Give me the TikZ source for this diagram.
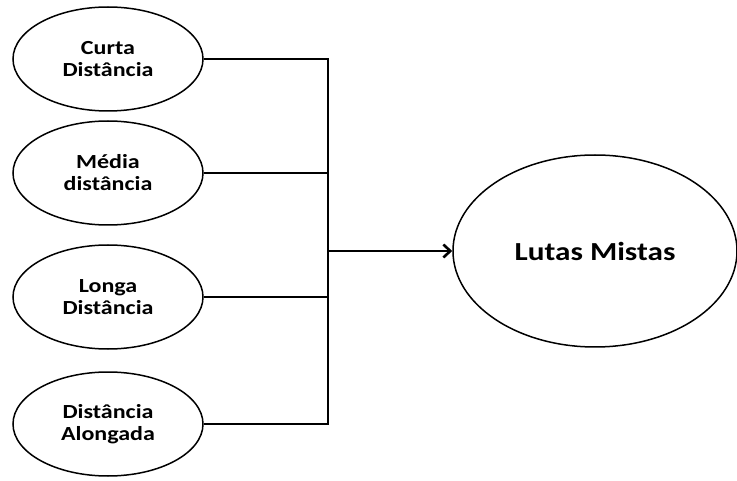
\documentclass[tikz,border=0pt]{standalone}
\usepackage{fontspec}
\setmainfont{Carlito}[FakeStretch=1.2]
\usetikzlibrary{shapes.geometric, arrows.meta}

\tikzset{
  ring/.style={draw, ellipse, line width=1.5pt, inner sep=0pt, align=center,
    font=\fontsize{20}{22}\selectfont\bfseries},
  small/.style={ring, minimum width=190, minimum height=104},
  wire/.style={line width=2.6pt}
}

\begin{document}
\begin{tikzpicture}[x=1pt, y=1pt]
\useasboundingbox (0, 0) rectangle (737, 480);
\node [small] (curta) at (108, 421) {Curta\\Distância};
\node [small] (media) at (108, 307) {Média\\distância};
\node [small] (longa) at (108, 183) {Longa\\Distância};
\node [small] (alongada) at (108, 56) {Distância\\Alongada};
\node [ring, minimum width=284, minimum height=192,
  font=\fontsize{26}{28}\selectfont\bfseries] (lutas) at (595, 229) {Lutas Mistas};
\coordinate (junction) at (328, 229);
%Connectors
\draw [wire] (curta.east) -- (curta.east -| junction);
\draw [wire] (media.east) -- (media.east -| junction);
\draw [wire] (longa.east) -- (longa.east -| junction);
\draw [wire] (alongada.east) -- (alongada.east -| junction);
\draw [wire, line cap=rect] (curta.east -| junction) -- (alongada.east -| junction);
\draw [wire, -{Straight Barb[length=7pt, width=13pt]}] (junction) -- (lutas.west);
\end{tikzpicture}
\end{document}
